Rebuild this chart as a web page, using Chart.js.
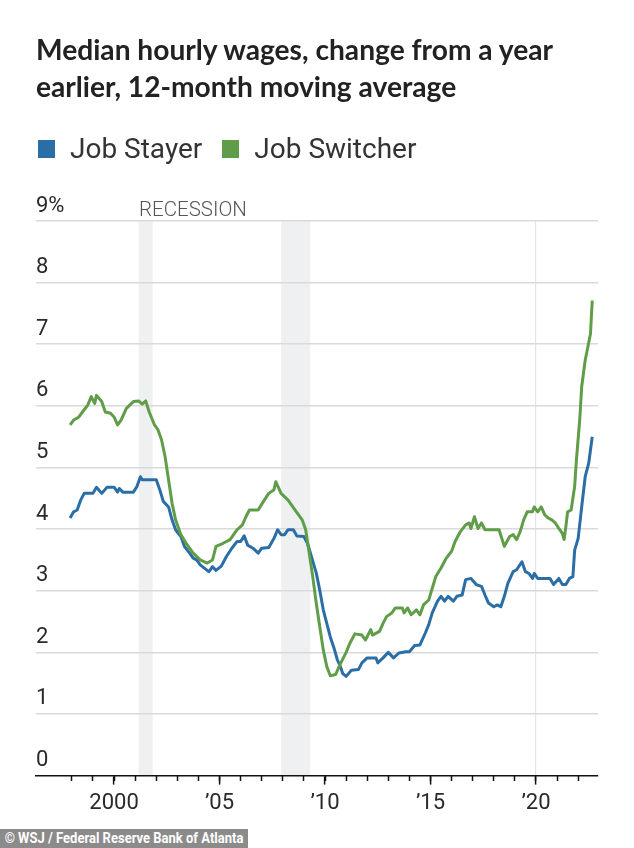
<!DOCTYPE html>
<html><head><meta charset="utf-8">
<script src="https://cdn.jsdelivr.net/npm/chart.js@4.4.1/dist/chart.umd.min.js"></script>
<style>
html,body{margin:0;padding:0;background:#fff;}
body{width:634px;height:848px;position:relative;overflow:hidden;font-family:Roboto,"Liberation Sans",sans-serif;}
canvas{position:absolute;left:0;top:0;}
#title{position:absolute;left:36px;top:31px;font-family:Lato,Roboto,sans-serif;font-weight:bold;font-size:28px;line-height:37px;color:#222;white-space:nowrap;transform-origin:left top;}
#title span{display:inline-block;}
#legend{position:absolute;left:38px;top:132px;display:flex;align-items:center;font-size:28px;color:#333;}
.item{display:flex;align-items:center;margin-right:20px;}
.sw{display:inline-block;width:17px;height:18px;margin-right:15px;}
#rec{position:absolute;top:197px;font-size:20.5px;font-weight:300;color:#555;white-space:nowrap;}
#src{position:absolute;left:0;top:829px;height:19px;line-height:19px;background:#8b8b8b;color:#fff;font-weight:bold;font-size:14px;padding:0 5px;white-space:nowrap;transform-origin:left top;}
</style></head>
<body>
<canvas id="c" width="634" height="848"></canvas>
<div id="title"><span id="t1">Median hourly wages, change from a year</span><br><span>earlier, 12-month moving average</span></div>
<div id="legend">
  <div class="item"><span class="sw" style="background:#2b6ea6"></span>Job Stayer</div>
  <div class="item"><span class="sw" style="background:#5f9d48"></span>Job Switcher</div>
</div>
<div id="rec">RECESSION</div>
<div id="src">© WSJ / Federal Reserve Bank of Atlanta</div>
<script>
// ---- data ----
const switcherDates = ["1997-12","1998-02","1998-05","1998-07","1998-10","1998-12","1999-02","1999-03","1999-06","1999-08","1999-11","2000-01","2000-03","2000-05","2000-08","2000-12","2001-03","2001-05","2001-07","2001-09","2001-12","2002-02","2002-04","2002-06","2002-08","2002-10","2002-12","2003-03","2003-06","2003-10","2004-02","2004-06","2004-09","2004-11","2005-03","2005-07","2005-11","2006-02","2006-04","2006-06","2006-11","2007-02","2007-05","2007-08","2007-09","2007-12","2008-04","2008-08","2008-12","2009-02","2009-04","2009-06","2009-08","2009-10","2009-12","2010-02","2010-04","2010-07","2010-10","2011-01","2011-03","2011-06","2011-10","2011-12","2012-03","2012-04","2012-08","2012-10","2012-12","2013-03","2013-05","2013-09","2013-10","2013-12","2014-02","2014-05","2014-07","2014-09","2014-12","2015-02","2015-04","2015-07","2015-10","2016-01","2016-03","2016-06","2016-09","2016-11","2016-12","2017-02","2017-04","2017-06","2017-08","2017-12","2018-04","2018-07","2018-10","2018-12","2019-02","2019-04","2019-06","2019-08","2019-11","2019-12","2020-02","2020-04","2020-06","2020-08","2020-10","2020-12","2021-02","2021-04","2021-05","2021-06","2021-07","2021-09","2021-11","2021-12","2022-02","2022-03","2022-05","2022-08","2022-09"];
const switcherValues = [5.69,5.77,5.82,5.90,6.01,6.15,6.04,6.17,6.07,5.90,5.88,5.82,5.69,5.77,5.96,6.07,6.08,6.03,6.08,5.90,5.69,5.61,5.45,5.18,4.80,4.42,4.15,3.91,3.77,3.61,3.50,3.45,3.50,3.72,3.77,3.83,3.99,4.07,4.20,4.31,4.31,4.45,4.58,4.64,4.77,4.58,4.47,4.31,4.15,3.99,3.61,3.23,2.80,2.42,2.04,1.77,1.62,1.64,1.83,2.00,2.14,2.30,2.28,2.20,2.37,2.28,2.34,2.47,2.58,2.64,2.72,2.72,2.64,2.72,2.61,2.69,2.61,2.77,2.85,3.04,3.23,3.37,3.53,3.64,3.80,3.96,4.07,4.10,4.01,4.20,4.01,4.10,3.99,3.99,3.99,3.72,3.88,3.91,3.83,3.96,4.15,4.28,4.28,4.36,4.28,4.36,4.23,4.18,4.15,4.10,4.01,3.93,3.83,4.04,4.28,4.31,4.69,5.12,5.82,6.31,6.74,7.17,7.71];

const stayerDates = ["1997-12","1998-02","1998-04","1998-06","1998-08","1999-01","1999-03","1999-06","1999-09","2000-01","2000-03","2000-04","2000-06","2000-12","2001-02","2001-04","2001-05","2002-01","2002-03","2002-05","2002-08","2002-10","2002-12","2003-03","2003-05","2003-08","2003-10","2003-12","2004-02","2004-06","2004-07","2004-09","2004-11","2005-02","2005-05","2005-08","2005-11","2006-01","2006-03","2006-05","2006-08","2006-11","2007-01","2007-05","2007-08","2007-10","2007-12","2008-02","2008-04","2008-07","2008-09","2009-01","2009-03","2009-05","2009-08","2009-10","2009-12","2010-02","2010-04","2010-06","2010-08","2010-10","2010-11","2011-01","2011-04","2011-08","2011-10","2012-01","2012-06","2012-07","2012-10","2013-01","2013-04","2013-07","2013-11","2014-01","2014-04","2014-07","2014-10","2014-12","2015-02","2015-05","2015-07","2015-09","2015-11","2016-02","2016-04","2016-07","2016-09","2016-12","2017-03","2017-06","2017-08","2017-10","2018-01","2018-03","2018-05","2018-07","2018-09","2018-12","2019-02","2019-05","2019-07","2019-09","2019-11","2019-12","2020-02","2020-09","2020-11","2021-02","2021-04","2021-06","2021-08","2021-10","2021-11","2022-01","2022-03","2022-05","2022-07","2022-09"];
const stayerValues = [4.18,4.28,4.31,4.47,4.58,4.58,4.68,4.58,4.68,4.68,4.60,4.66,4.60,4.60,4.69,4.85,4.80,4.80,4.64,4.45,4.36,4.15,3.99,3.88,3.72,3.61,3.53,3.50,3.42,3.33,3.31,3.39,3.33,3.40,3.56,3.69,3.80,3.80,3.89,3.74,3.69,3.61,3.69,3.70,3.85,3.99,3.91,3.91,3.99,3.99,3.89,3.88,3.77,3.58,3.29,3.01,2.69,2.47,2.25,2.08,1.88,1.75,1.66,1.61,1.71,1.72,1.83,1.91,1.91,1.83,1.91,2.00,1.91,1.99,2.01,2.01,2.11,2.12,2.31,2.45,2.64,2.83,2.91,2.83,2.91,2.83,2.91,2.93,3.18,3.20,3.10,3.07,2.93,2.80,2.74,2.77,2.74,2.91,3.12,3.31,3.34,3.47,3.31,3.28,3.20,3.28,3.20,3.20,3.10,3.20,3.10,3.10,3.20,3.23,3.66,3.85,4.36,4.85,5.07,5.50];

const recessionStart = [2001.17, 2007.92];
const recessionEnd   = [2001.83, 2009.30];
const majorYears = [2000, 2005, 2010, 2015, 2020];
const minorYears = [1998,1999,2000,2001,2002,2003,2004,2005,2006,2007,2008,2009,2010,2011,2012,2013,2014,2015,2016,2017,2018,2019,2020,2021,2022];
const yTicks = [0,1,2,3,4,5,6,7,8,9];
const highlightYear = 2020;

// ---- setup ----
const X_MIN = 1996.30, X_MAX = 2022.94;
const BLUE = '#2b6ea6', GREEN = '#5f9d48';
const FONT = 'Roboto, "Liberation Sans", sans-serif';
const toYear = s => { const p = s.split('-').map(Number); return p[0] + (p[1]-1)/12; };
const pts = (d, v) => d.map((s, i) => ({x: toYear(s), y: v[i]}));

const recessionPlugin = {
  id: 'recessions',
  beforeDraw(chart) {
    const {ctx, chartArea: a, scales: {x}} = chart;
    ctx.save();
    ctx.fillStyle = '#eff0f2';
    recessionStart.forEach((s, i) => {
      const x0 = x.getPixelForValue(s), x1 = x.getPixelForValue(recessionEnd[i]);
      ctx.fillRect(x0, a.top, x1 - x0, a.bottom - a.top);
    });
    ctx.restore();
  }
};

const chart = new Chart(document.getElementById('c'), {
  type: 'line',
  data: {
    datasets: [
      {label: 'Job Switcher', data: pts(switcherDates, switcherValues), borderColor: GREEN, borderWidth: 3, pointRadius: 0, tension: 0, order: 0, borderJoinStyle: 'round'},
      {label: 'Job Stayer', data: pts(stayerDates, stayerValues), borderColor: BLUE, borderWidth: 3, pointRadius: 0, tension: 0, order: 1, borderJoinStyle: 'round'}
    ]
  },
  options: {
    responsive: false, animation: false, devicePixelRatio: 1,
    layout: {padding: {top: 221, left: 36, right: 36, bottom: 25}},
    plugins: {legend: {display: false}, tooltip: {enabled: false}},
    scales: {
      x: {
        type: 'linear', position: 'bottom', min: X_MIN, max: X_MAX,
        afterBuildTicks: s => { s.ticks = majorYears.map(v => ({value: v})); },
        ticks: {
          autoSkip: false, maxRotation: 0, padding: 6, color: '#2a2a2a',
          font: {family: FONT, size: 22},
          callback: v => v === 2000 ? '2000' : '\u2019' + String(v).slice(2)
        },
        grid: {
          drawOnChartArea: true, tickLength: 9, tickWidth: 1.5, tickColor: '#111', lineWidth: 1.2,
          color: c => (c.tick && c.tick.value === highlightYear) ? '#e4e4e4' : 'rgba(0,0,0,0)'
        },
        border: {display: true, color: '#111', width: 1.5}
      },
      x2: {
        type: 'linear', position: {y: 0}, min: X_MIN, max: X_MAX,
        afterBuildTicks: s => { s.ticks = minorYears.map(v => ({value: v})); },
        ticks: {display: false},
        grid: {drawOnChartArea: false, tickLength: 5, tickWidth: 1.5, tickColor: '#111'},
        border: {display: false}
      },
      y: {
        min: 0, max: 9, position: 'left',
        afterBuildTicks: s => { s.ticks = yTicks.map(v => ({value: v})); },
        ticks: {
          mirror: true, padding: 0, labelOffset: -15, color: '#2a2a2a',
          font: {family: FONT, size: 22},
          callback: v => v === 9 ? '9%' : String(v)
        },
        grid: {drawTicks: false, lineWidth: 1.5, color: c => (c.tick && c.tick.value === 0) ? 'rgba(0,0,0,0)' : '#dadada'},
        border: {display: false}
      }
    }
  },
  plugins: [recessionPlugin]
});

// place annotation / fit text widths to the reference layout
document.getElementById('rec').style.left = Math.round(chart.scales.x.getPixelForValue(recessionStart[0])) + 'px';
function fitWidth(el, measureEl, target) {
  const w = measureEl.getBoundingClientRect().width;
  if (w > 0) el.style.transform = 'scaleX(' + (target / w) + ')';
}
fitWidth(document.getElementById('title'), document.getElementById('t1'), 517);
fitWidth(document.getElementById('src'), document.getElementById('src'), 248);
</script>
</body></html>
